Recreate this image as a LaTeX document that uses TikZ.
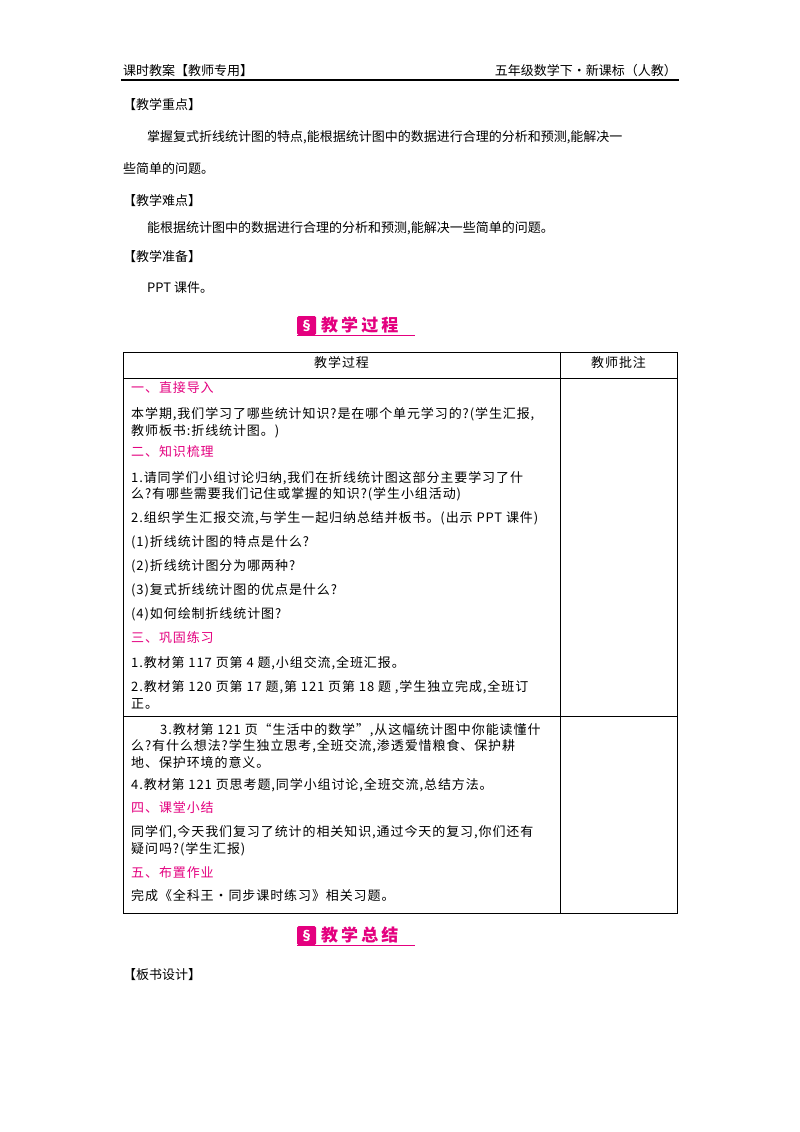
\documentclass[tikz,border=0pt]{standalone}
\usepackage{fontspec}
\setmainfont{Noto Sans CJK SC}
\newfontfamily\spacedf[LetterSpace=7]{Noto Sans CJK SC}
\newfontfamily\banf[LetterSpace=18]{Noto Sans CJK SC}
\definecolor{mag}{HTML}{E4007F}
\begin{document}
\begin{tikzpicture}[x=1pt,y=-1pt,
 p/.style={anchor=west,inner sep=0pt,font=\fontsize{13}{14}\selectfont},
 t/.style={anchor=west,inner sep=0pt,font=\spacedf\fontsize{13}{14}\selectfont},
 h/.style={t,text=mag},
 ban/.style={anchor=west,inner sep=0pt,text=mag,font=\banf\fontsize{17}{18}\selectfont\bfseries}]
\useasboundingbox[fill=white] (0,0) rectangle (800,1132);
% header
\node[p] (hl) at (123,71) {课时教案【教师专用】};
\node[p,anchor=east] (hr) at (677,71) {五年级数学下·新课标（人教）};
\draw[line width=1.6pt] (121,80) -- (679,80);
\node[p] (a1) at (123,105) {【教学重点】};
\node[p] (a2) at (147,137) {掌握复式折线统计图的特点,能根据统计图中的数据进行合理的分析和预测,能解决一};
\node[p] (a3) at (123,169) {些简单的问题。};
\node[p] (a4) at (123,201) {【教学难点】};
\node[p] (a5) at (147,228) {能根据统计图中的数据进行合理的分析和预测,能解决一些简单的问题。};
\node[p] (a6) at (123,257) {【教学准备】};
\node[p] (a7) at (147,288) {PPT 课件。};
% banner 1
\fill[mag,rounded corners=1.5pt] (297,316) rectangle (316,335);
\node[text=white,inner sep=0pt,font=\fontsize{13}{13}\selectfont\bfseries] (i1) at (306.5,325.5) {\S};
\node[ban] (b1) at (321,325) {教学过程};
\draw[mag,line width=0.8pt] (297,335.5) -- (415,335.5);
% table
\draw[line width=0.9pt] (123,352) rectangle (677,913);
\draw[line width=0.6pt] (560,352) -- (560,913);
\draw[line width=0.8pt] (123,378) -- (677,378);
\draw[line width=0.8pt] (123,716) -- (677,716);
\node[t] (th1) at (314,363) {教学过程};
\node[t] (th2) at (591,363) {教师批注};
\node[h] (r1) at (131,388) {一、直接导入};
\node[t] (r2) at (131,414) {本学期,我们学习了哪些统计知识?是在哪个单元学习的?(学生汇报,};
\node[t] (r3) at (131,431) {教师板书:折线统计图。)};
\node[h] (r4) at (131,452) {二、知识梳理};
\node[t] (r5) at (131,478) {1.请同学们小组讨论归纳,我们在折线统计图这部分主要学习了什};
\node[t] (r6) at (131,494) {么?有哪些需要我们记住或掌握的知识?(学生小组活动)};
\node[t] (r7) at (131,518) {2.组织学生汇报交流,与学生一起归纳总结并板书。(出示 PPT 课件)};
\node[t] (r8) at (131,542) {(1)折线统计图的特点是什么?};
\node[t] (r9) at (131,566) {(2)折线统计图分为哪两种?};
\node[t] (r10) at (131,590) {(3)复式折线统计图的优点是什么?};
\node[t] (r11) at (131,614) {(4)如何绘制折线统计图?};
\node[h] (r12) at (131,638) {三、巩固练习};
\node[t] (r13) at (131,663) {1.教材第 117 页第 4 题,小组交流,全班汇报。};
\node[t] (r14) at (131,687) {2.教材第 120 页第 17 题,第 121 页第 18 题 ,学生独立完成,全班订};
\node[t] (r15) at (131,704) {正。};
\node[t] (s1) at (160,730) {3.教材第 121 页“生活中的数学”,从这幅统计图中你能读懂什};
\node[t] (s2) at (131,746) {么?有什么想法?学生独立思考,全班交流,渗透爱惜粮食、保护耕};
\node[t] (s3) at (131,763) {地、保护环境的意义。};
\node[t] (s4) at (131,785) {4.教材第 121 页思考题,同学小组讨论,全班交流,总结方法。};
\node[h] (s5) at (131,808) {四、课堂小结};
\node[t] (s6) at (131,832) {同学们,今天我们复习了统计的相关知识,通过今天的复习,你们还有};
\node[t] (s7) at (131,849) {疑问吗?(学生汇报)};
\node[h] (s8) at (131,873) {五、布置作业};
\node[t] (s9) at (131,896) {完成《全科王·同步课时练习》相关习题。};
% banner 2
\fill[mag,rounded corners=1.5pt] (297,926) rectangle (316,945);
\node[text=white,inner sep=0pt,font=\fontsize{13}{13}\selectfont\bfseries] (i2) at (306.5,935.5) {\S};
\node[ban] (b2) at (321,935) {教学总结};
\draw[mag,line width=0.8pt] (297,945.5) -- (415,945.5);
\node[p] (z) at (123,975) {【板书设计】};
\end{tikzpicture}
\end{document}
